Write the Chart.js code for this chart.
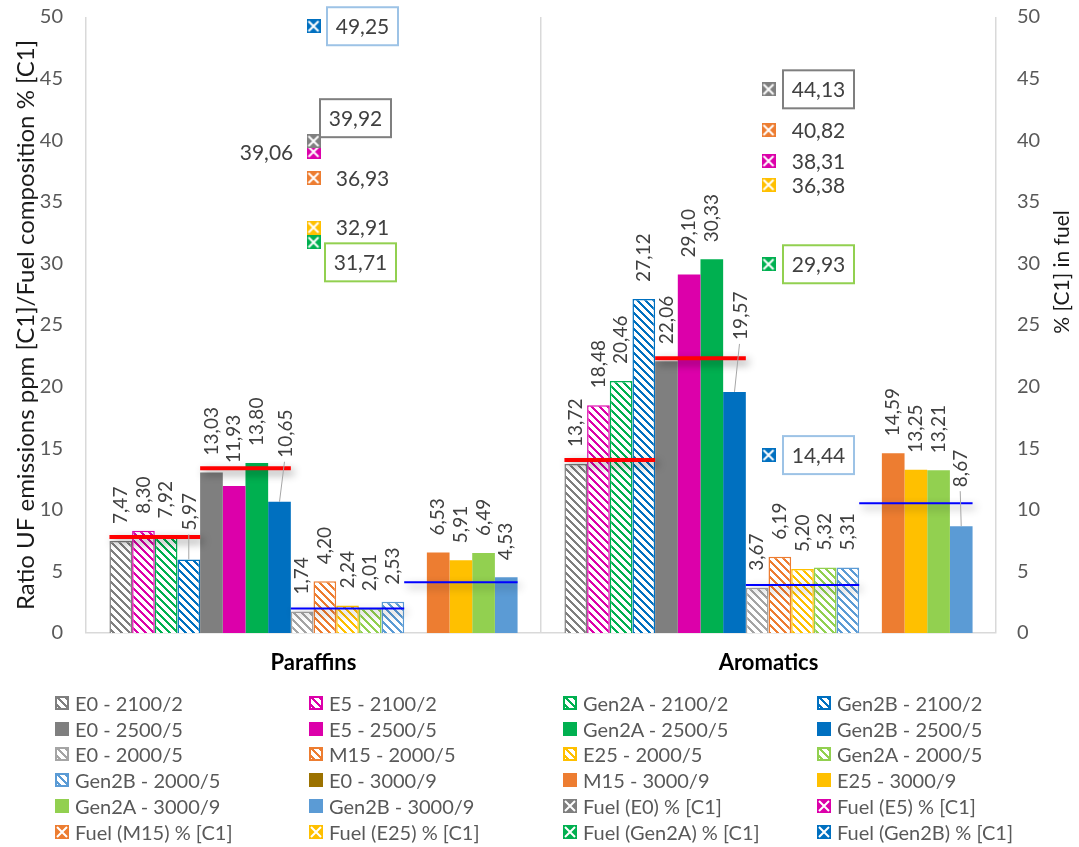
<!DOCTYPE html>
<html lang="en">
<head>
<meta charset="UTF-8">
<title>UF emissions ratio and fuel composition</title>
<script src="https://cdn.jsdelivr.net/npm/chart.js"></script>
<style>
  body { margin: 0; background: #fff; font-family: Lato, sans-serif; }
  .wrap { position: relative; width: 1079px; height: 847px; }
  #legend {
    position: absolute; left: 55px; top: 690px;
    display: grid; grid-template-columns: repeat(4, 254px); grid-auto-rows: 25.8px;
    font-size: 20px; color: #595959;
  }
  #legend div { display: flex; align-items: center; white-space: nowrap; }
  #legend canvas { margin-right: 6px; }
</style>
</head>
<body>
<div class="wrap">
  <canvas id="ufChart" width="1079" height="847"></canvas>
  <div id="legend"></div>
</div>
<script>
const categories = ['Paraffins', 'Aromatics'];

const barNames = [
  'E0 - 2100/2', 'E5 - 2100/2', 'Gen2A - 2100/2', 'Gen2B - 2100/2',
  'E0 - 2500/5', 'E5 - 2500/5', 'Gen2A - 2500/5', 'Gen2B - 2500/5',
  'E0 - 2000/5', 'M15 - 2000/5', 'E25 - 2000/5', 'Gen2A - 2000/5', 'Gen2B - 2000/5',
  'E0 - 3000/9', 'M15 - 3000/9', 'E25 - 3000/9', 'Gen2A - 3000/9', 'Gen2B - 3000/9'
];
const paraffinRatios = [7.47, 8.30, 7.92, 5.97, 13.03, 11.93, 13.80, 10.65, 1.74, 4.20, 2.24, 2.01, 2.53, null, 6.53, 5.91, 6.49, 4.53];
const aromaticRatios = [13.72, 18.48, 20.46, 27.12, 22.06, 29.10, 30.33, 19.57, 3.67, 6.19, 5.20, 5.32, 5.31, null, 14.59, 13.25, 13.21, 8.67];
const barColors = [
  '#7f7f7f', '#dc00aa', '#00b050', '#0070c0',
  '#7f7f7f', '#dc00aa', '#00b050', '#0070c0',
  '#a5a5a5', '#ed7d31', '#ffc000', '#92d050', '#5b9bd5',
  '#9c7200', '#ed7d31', '#ffc000', '#92d050', '#5b9bd5'
];
const hatched = [1, 1, 1, 1, 0, 0, 0, 0, 1, 1, 1, 1, 1, 0, 0, 0, 0, 0];

const fuelNames = ['Fuel (E0) % [C1]', 'Fuel (E5) % [C1]', 'Fuel (M15) % [C1]', 'Fuel (E25) % [C1]', 'Fuel (Gen2A) % [C1]', 'Fuel (Gen2B) % [C1]'];
const fuelParaffins = [39.92, 39.06, 36.93, 32.91, 31.71, 49.25];
const fuelAromatics = [44.13, 38.31, 40.82, 36.38, 29.93, 14.44];
const fuelColors = ['#7f7f7f', '#dc00aa', '#ed7d31', '#ffc000', '#00b050', '#0070c0'];

// horizontal level lines over each group of bars
const groupRanges = [[0, 3], [4, 7], [8, 12], [13, 17]];
const levelParaffins = [7.8, 13.37, 1.98, 4.11];
const levelAromatics = [14.04, 22.3, 3.9, 10.53];
const levelColors = ['#ff0000', '#ff0000', '#0000ff', '#0000ff'];
const levelWidths = [4, 4, 2, 2];

const yTicks = { min: 0, max: 50, step: 5 };

// labels moved off their default spot: "dataset:category" -> [dx, dy]
const labelNudges = {
  '3:0': [1, -12], '5:0': [0, -6], '7:0': [6, -27],
  '7:1': [6, -35], '17:1': [0, -22]
};
// fuel value labels: [dx, dy, boxed] for Paraffins / Aromatics
const fuelLabelPos = [
  [[42, -23, true], [50, 0, true]],
  [[-47, 0, false], [50, 0, false]],
  [[49, 0, false], [50, 0, false]],
  [[49, 0, false], [50, 0, false]],
  [[47, 20, true], [50, 0, true]],
  [[49, 0, true], [50, 0, true]]
];
const fuelBoxColors = ['#7f7f7f', null, null, null, '#92d050', '#9dc3e6'];

const fmt = v => v.toFixed(2).replace('.', ',');

function hatchTile(color) {
  const c = document.createElement('canvas');
  c.width = 8; c.height = 8;
  const g = c.getContext('2d');
  g.fillStyle = '#fff';
  g.fillRect(0, 0, 8, 8);
  g.fillStyle = color;
  for (let y = 0; y < 8; y++)
    for (let x = 0; x < 8; x++)
      if ((((x - y) % 8) + 8) % 8 < 3) g.fillRect(x, y, 1, 1);
  return c;
}

function markerImage(color, size) {
  const c = document.createElement('canvas');
  c.width = size; c.height = size;
  const g = c.getContext('2d');
  g.fillStyle = color;
  g.fillRect(0, 0, size, size);
  g.strokeStyle = '#fff';
  g.lineWidth = 2;
  g.beginPath();
  g.moveTo(2, 2); g.lineTo(size - 2, size - 2);
  g.moveTo(size - 2, 2); g.lineTo(2, size - 2);
  g.stroke();
  return c;
}

const canvas = document.getElementById('ufChart');
const ctx = canvas.getContext('2d');

const barDatasets = barNames.map((name, i) => ({
  label: name,
  data: [paraffinRatios[i], aromaticRatios[i]],
  backgroundColor: hatched[i] ? ctx.createPattern(hatchTile(barColors[i]), 'repeat') : barColors[i],
  borderColor: barColors[i],
  borderWidth: hatched[i] ? 1.5 : 0,
  yAxisID: 'y'
}));

const markers = fuelColors.map(c => markerImage(c, 14));
const fuelDatasets = fuelNames.map((name, k) => ({
  type: 'line',
  label: name,
  data: [fuelParaffins[k], fuelAromatics[k]],
  yAxisID: 'y2',
  showLine: false,
  pointStyle: markers[k],
  pointRadius: 7,
  order: -1
}));

const levelsPlugin = {
  id: 'levels',
  afterDatasetsDraw(chart) {
    const c = chart.ctx;
    const ys = chart.scales.y;
    categories.forEach((cat, j) => {
      const vals = j === 0 ? levelParaffins : levelAromatics;
      groupRanges.forEach(([a, b], g) => {
        const first = chart.getDatasetMeta(a).data[j];
        const last = chart.getDatasetMeta(b).data[j];
        const x0 = first.x - first.width / 2;
        const x1 = last.x + last.width / 2;
        const py = ys.getPixelForValue(vals[g]);
        c.save();
        c.shadowColor = 'rgba(0,0,0,0.45)';
        c.shadowBlur = 8;
        c.shadowOffsetX = 3;
        c.shadowOffsetY = 4;
        c.strokeStyle = levelColors[g];
        c.lineWidth = levelWidths[g];
        c.beginPath();
        c.moveTo(x0, py);
        c.lineTo(x1, py);
        c.stroke();
        c.restore();
      });
    });
  }
};

const barLabelsPlugin = {
  id: 'barLabels',
  afterDatasetsDraw(chart) {
    const c = chart.ctx;
    c.save();
    c.font = '19px Lato';
    c.fillStyle = '#404040';
    c.textAlign = 'left';
    c.textBaseline = 'middle';
    barNames.forEach((n, i) => {
      chart.getDatasetMeta(i).data.forEach((bar, j) => {
        const v = chart.data.datasets[i].data[j];
        if (v == null) return;
        const [dx, dy] = labelNudges[i + ':' + j] || [0, 0];
        const lx = bar.x + dx;
        const ly = bar.y - 17 + dy;
        if (dy < -10) {
          c.save();
          c.strokeStyle = '#a6a6a6';
          c.lineWidth = 1;
          c.beginPath();
          c.moveTo(lx - 1, ly + 4);
          c.lineTo(bar.x, bar.y);
          c.stroke();
          c.restore();
        }
        c.save();
        c.translate(lx, ly);
        c.rotate(-Math.PI / 2);
        c.fillText(fmt(v), 0, 0);
        c.restore();
      });
    });
    c.restore();
  }
};

const fuelLabelsPlugin = {
  id: 'fuelLabels',
  afterDatasetsDraw(chart) {
    const c = chart.ctx;
    c.save();
    c.font = '21px Lato';
    c.textAlign = 'center';
    c.textBaseline = 'middle';
    fuelNames.forEach((n, k) => {
      const meta = chart.getDatasetMeta(barNames.length + k);
      meta.data.forEach((pt, j) => {
        const v = chart.data.datasets[barNames.length + k].data[j];
        const [dx, dy, boxed] = fuelLabelPos[k][j];
        const cx = pt.x + dx;
        const cy = pt.y + dy;
        if (boxed) {
          c.fillStyle = '#fff';
          c.fillRect(cx - 35.5, cy - 19, 71, 38);
          c.strokeStyle = fuelBoxColors[k];
          c.lineWidth = 2;
          c.strokeRect(cx - 35.5, cy - 19, 71, 38);
        }
        c.fillStyle = '#404040';
        c.fillText(fmt(v), cx, cy + 1);
      });
    });
    c.restore();
  }
};

// secondary axis title, reading bottom-to-top like the primary one
const rightTitlePlugin = {
  id: 'rightTitle',
  afterDraw(chart) {
    const c = chart.ctx;
    c.save();
    c.font = '21px Lato';
    c.fillStyle = '#1a1a1a';
    c.textAlign = 'center';
    c.textBaseline = 'middle';
    c.translate(1062, 272);
    c.rotate(-Math.PI / 2);
    c.fillText('% [C1] in fuel', 0, 0);
    c.restore();
  }
};

const axisTicks = {
  stepSize: yTicks.step,
  color: '#595959',
  font: { family: 'Lato', size: 20 }
};

// fixed axis widths; drop the tick-padding reserve above and below the plot
function fitVertical(width) {
  return s => {
    s.width = width;
    s.paddingTop = 0;
    s.paddingBottom = 0;
  };
}

const ufChart = new Chart(ctx, {
  type: 'bar',
  data: {
    labels: categories,
    datasets: [...barDatasets, ...fuelDatasets]
  },
  options: {
    responsive: false,
    animation: false,
    categoryPercentage: 0.897,
    barPercentage: 1,
    layout: { padding: { top: 17, left: 0, right: 0, bottom: 0 } },
    plugins: {
      legend: { display: false },
      tooltip: { enabled: false }
    },
    scales: {
      x: {
        offset: true,
        grid: { color: '#d9d9d9', lineWidth: 1.5, offset: true, drawTicks: false },
        border: { color: '#d9d9d9', width: 1.5 },
        ticks: { color: '#000', padding: 17, font: { family: 'Lato', size: 22, weight: 'bold' } },
        afterFit(s) { s.height = 214; }
      },
      y: {
        position: 'left',
        min: yTicks.min,
        max: yTicks.max,
        grid: { display: false, drawTicks: false },
        border: { display: false },
        ticks: { ...axisTicks, padding: 23 },
        title: {
          display: true,
          text: 'Ratio UF emissions ppm [C1]/Fuel composition % [C1]',
          color: '#1a1a1a',
          font: { family: 'Lato', size: 24 },
          padding: { top: 12, bottom: 0 }
        },
        afterFit: fitVertical(86)
      },
      y2: {
        position: 'right',
        min: yTicks.min,
        max: yTicks.max,
        grid: { display: false, drawTicks: false },
        border: { display: false },
        ticks: { ...axisTicks, padding: 21 },
        afterFit: fitVertical(83)
      }
    }
  },
  plugins: [levelsPlugin, barLabelsPlugin, fuelLabelsPlugin, rightTitlePlugin]
});

// legend in a fixed 4-column grid
const legend = document.getElementById('legend');
const legendItems = [
  ...barNames.map((n, i) => ({ name: n, kind: hatched[i] ? 'hatch' : 'solid', color: barColors[i] })),
  ...fuelNames.map((n, k) => ({ name: n, kind: 'marker', color: fuelColors[k], img: markers[k] }))
];
legendItems.forEach(item => {
  const row = document.createElement('div');
  const sw = document.createElement('canvas');
  sw.width = 14; sw.height = 14;
  const g = sw.getContext('2d');
  if (item.kind === 'solid') {
    g.fillStyle = item.color;
    g.fillRect(0, 0, 14, 14);
  } else if (item.kind === 'hatch') {
    g.fillStyle = g.createPattern(hatchTile(item.color), 'repeat');
    g.fillRect(0, 0, 14, 14);
    g.strokeStyle = item.color;
    g.lineWidth = 2;
    g.strokeRect(1, 1, 12, 12);
  } else {
    g.drawImage(item.img, 0, 0);
  }
  const label = document.createElement('span');
  label.textContent = item.name;
  row.appendChild(sw);
  row.appendChild(label);
  legend.appendChild(row);
});
</script>
</body>
</html>
